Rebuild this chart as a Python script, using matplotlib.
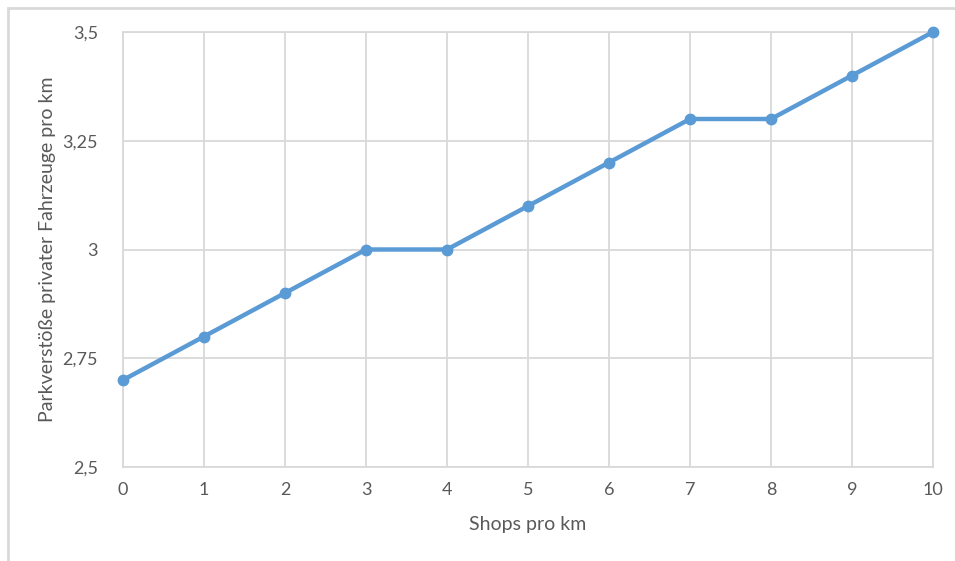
import matplotlib.pyplot as plt
from matplotlib.patches import Rectangle
from matplotlib.ticker import FuncFormatter

shops = [0, 1, 2, 3, 4, 5, 6, 7, 8, 9, 10]
verstoesse = [2.7, 2.8, 2.9, 3.0, 3.0, 3.1, 3.2, 3.3, 3.3, 3.4, 3.5]
y_ticks = [2.5, 2.75, 3.0, 3.25, 3.5]

plt.rcParams['font.family'] = ['Lato', 'DejaVu Sans']
text_col = '#595959'
grid_col = '#d9d9d9'


def german(v, pos):
    s = ('%.2f' % v).rstrip('0').rstrip('.')
    return s.replace('.', ',')


fig = plt.figure(figsize=(9.55, 5.61), dpi=100)
# light frame of the chart area (only left and top edge visible)
fig.add_artist(Rectangle((8 / 955, -0.1), 1.2, 1.1 - 8 / 561,
                         transform=fig.transFigure, fill=False,
                         edgecolor=grid_col, linewidth=2))
ax = fig.add_axes([123 / 955, 1 - 467 / 561, 810 / 955, 435 / 561])

ax.plot(shops, verstoesse, color='#5b9bd5', linewidth=3.2, marker='o',
        markersize=7.5, solid_capstyle='round', zorder=3, clip_on=False)

ax.set_xlim(0, 10)
ax.set_ylim(2.5, 3.5)
ax.set_xticks(shops)
ax.set_yticks(y_ticks)
ax.yaxis.set_major_formatter(FuncFormatter(german))
ax.grid(True, color=grid_col, linewidth=1.3)
for sp in ax.spines.values():
    sp.set_color(grid_col)
    sp.set_linewidth(1.3)
ax.tick_params(length=0, labelsize=13, colors=text_col, pad=11)
ax.tick_params(axis='y', pad=18)

ax.set_xlabel('Shops pro km', fontsize=14, color=text_col, labelpad=13)
ax.set_ylabel('Parkverstöße privater Fahrzeuge pro km', fontsize=14,
              color=text_col, labelpad=5)

fig.savefig('out.png', dpi=100)
